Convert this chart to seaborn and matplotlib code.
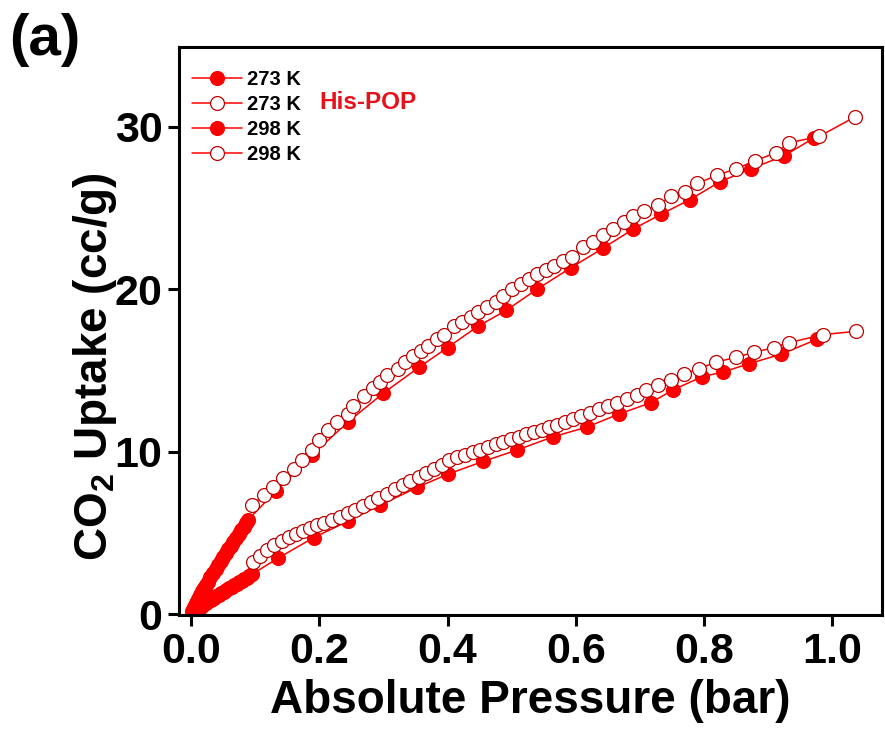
import matplotlib
matplotlib.use("Agg")
import matplotlib.pyplot as plt
import seaborn as sns

# 273 K adsorption (filled) / desorption (open)
p_273_ads = [0.002, 0.005, 0.008, 0.011, 0.014, 0.017, 0.020, 0.023, 0.026, 0.030,
             0.034, 0.038, 0.042, 0.046, 0.050, 0.054, 0.058, 0.062, 0.066, 0.070,
             0.074, 0.078, 0.082, 0.086, 0.089,
             0.133, 0.189, 0.244, 0.300, 0.356, 0.400, 0.447, 0.492, 0.540, 0.592,
             0.642, 0.690, 0.733, 0.778, 0.825, 0.873, 0.925, 0.972]
q_273_ads = [0.2, 0.45, 0.7, 0.95, 1.15, 1.4, 1.6, 1.8, 2.0, 2.25,
             2.5, 2.75, 3.0, 3.25, 3.5, 3.75, 4.0, 4.2, 4.45, 4.7,
             4.9, 5.15, 5.35, 5.6, 5.8,
             7.6, 9.8, 11.8, 13.6, 15.2, 16.4, 17.7, 18.7, 20.0, 21.3,
             22.5, 23.7, 24.6, 25.5, 26.6, 27.4, 28.2, 29.3]

p_273_des = [0.095, 0.113, 0.128, 0.144, 0.160, 0.173, 0.189, 0.200, 0.214, 0.228,
             0.244, 0.253, 0.269, 0.283, 0.295, 0.306, 0.322, 0.334, 0.346, 0.358,
             0.370, 0.384, 0.394, 0.410, 0.423, 0.436, 0.448, 0.462, 0.475, 0.487,
             0.500, 0.514, 0.527, 0.540, 0.553, 0.566, 0.580, 0.595, 0.611, 0.627,
             0.642, 0.658, 0.675, 0.690, 0.707, 0.728, 0.749, 0.770, 0.790, 0.820,
             0.850, 0.880, 0.913, 0.933, 0.980, 1.036]
q_273_des = [6.7, 7.3, 7.8, 8.4, 8.9, 9.5, 10.1, 10.7, 11.3, 11.8,
             12.3, 12.8, 13.4, 13.9, 14.3, 14.7, 15.1, 15.5, 15.9, 16.2,
             16.5, 16.9, 17.2, 17.7, 18.0, 18.3, 18.6, 18.9, 19.2, 19.6,
             20.0, 20.3, 20.6, 20.9, 21.15, 21.4, 21.7, 22.0, 22.6, 22.9,
             23.3, 23.7, 24.1, 24.5, 24.8, 25.2, 25.7, 26.0, 26.5, 27.0,
             27.4, 27.9, 28.4, 29.0, 29.4, 30.6]

# 298 K adsorption (filled) / desorption (open)
p_298_ads = [0.003, 0.007, 0.011, 0.015, 0.019, 0.023, 0.027, 0.031, 0.035, 0.039,
             0.043, 0.047, 0.051, 0.055, 0.059, 0.063, 0.067, 0.071, 0.075, 0.079,
             0.083, 0.087, 0.091, 0.095,
             0.136, 0.191, 0.244, 0.295, 0.353, 0.400, 0.456, 0.509, 0.564, 0.617,
             0.667, 0.717, 0.752, 0.797, 0.830, 0.870, 0.921, 0.976]
q_298_ads = [0.1, 0.22, 0.34, 0.45, 0.56, 0.67, 0.78, 0.88, 0.98, 1.08,
             1.18, 1.28, 1.38, 1.48, 1.58, 1.67, 1.77, 1.86, 1.96, 2.05,
             2.15, 2.24, 2.35, 2.45,
             3.45, 4.7, 5.7, 6.7, 7.8, 8.6, 9.4, 10.1, 10.9, 11.5,
             12.3, 13.0, 13.8, 14.6, 14.9, 15.4, 16.0, 16.9]

p_298_des = [0.097, 0.108, 0.119, 0.130, 0.141, 0.152, 0.163, 0.174, 0.186, 0.197,
             0.208, 0.220, 0.232, 0.244, 0.256, 0.268, 0.280, 0.292, 0.305, 0.318,
             0.330, 0.342, 0.355, 0.367, 0.379, 0.391, 0.403, 0.415, 0.427, 0.439,
             0.451, 0.463, 0.475, 0.487, 0.499, 0.511, 0.523, 0.535, 0.547, 0.559,
             0.571, 0.583, 0.596, 0.609, 0.622, 0.636, 0.650, 0.665, 0.680, 0.695,
             0.709, 0.728, 0.748, 0.769, 0.792, 0.819, 0.850, 0.878, 0.909, 0.933,
             0.986, 1.0375]
q_298_des = [3.2, 3.6, 3.95, 4.25, 4.5, 4.75, 4.95, 5.1, 5.3, 5.45,
             5.6, 5.8, 6.0, 6.2, 6.4, 6.65, 6.9, 7.15, 7.4, 7.7,
             7.95, 8.2, 8.45, 8.7, 8.95, 9.2, 9.45, 9.65, 9.8, 9.95,
             10.1, 10.3, 10.45, 10.6, 10.75, 10.9, 11.05, 11.2, 11.35, 11.5,
             11.65, 11.8, 12.0, 12.2, 12.4, 12.6, 12.8, 13.0, 13.25, 13.5,
             13.8, 14.1, 14.4, 14.75, 15.1, 15.5, 15.8, 16.1, 16.4, 16.7,
             17.2, 17.4]

labels = ["273 K", "273 K", "298 K", "298 K"]
x_ticks = [0.0, 0.2, 0.4, 0.6, 0.8, 1.0]
y_ticks = [0, 10, 20, 30]

RED = "#ff0000"
DARK = "#c00000"

sns.set_style("ticks")
plt.rcParams["font.family"] = ["Liberation Sans", "DejaVu Sans"]
plt.rcParams["font.weight"] = "bold"
plt.rcParams["text.color"] = "black"
plt.rcParams["axes.labelcolor"] = "black"
plt.rcParams["mathtext.fontset"] = "custom"
plt.rcParams["mathtext.rm"] = "Liberation Sans:bold"
plt.rcParams["mathtext.default"] = "rm"

fig = plt.figure(figsize=(8.85, 7.33), dpi=100)
ax = fig.add_axes([179 / 885, 1 - 615 / 733, 703 / 885, 568 / 733])

series = [
    (p_273_ads, q_273_ads, True),
    (p_273_des, q_273_des, False),
    (p_298_ads, q_298_ads, True),
    (p_298_des, q_298_des, False),
]
for (px, qy, filled), lab in zip(series, labels):
    sns.lineplot(x=px, y=qy, ax=ax, sort=False, estimator=None,
                 color=RED, lw=1.1, marker="o", markersize=10,
                 markerfacecolor=RED if filled else "white",
                 markeredgecolor=RED if filled else DARK,
                 markeredgewidth=0.9, label=lab)

ax.set_xlim(-0.019, 1.078)
ax.set_ylim(-0.06, 34.9)
ax.set_xticks(x_ticks)
ax.set_xticklabels([f"{t:.1f}" for t in x_ticks])
ax.set_yticks(y_ticks)

for s in ax.spines.values():
    s.set_linewidth(2.2)
    s.set_color("black")
ax.tick_params(axis="both", direction="out", length=8, width=2.2,
               labelsize=31, pad=4, colors="black")
for t in ax.get_xticklabels() + ax.get_yticklabels():
    t.set_fontweight("bold")

ax.set_xlabel("Absolute Pressure (bar)", fontsize=33, fontweight="bold",
              labelpad=5, color="black")
ax.set_ylabel("CO$_2$ Uptake (cc/g)", fontsize=33, fontweight="bold", color="black")
ax.yaxis.set_label_coords(-0.085, 0.437)

leg = ax.legend(loc="upper left", bbox_to_anchor=(0.018, 0.9595), frameon=False,
                borderpad=0, borderaxespad=0, handlelength=2.5, handletextpad=0.25,
                labelspacing=0.3, prop={"size": 14.5, "weight": "bold"})
for t in leg.get_texts():
    t.set_color("black")

ax.text(0.269, 0.903, "His-POP", transform=ax.transAxes, ha="center", va="center",
        fontsize=17.5, fontweight="bold", color="#e8101a")
fig.text(0.05, 0.945, "(a)", ha="center", va="center", fontsize=42, fontweight="bold")

fig.savefig("out.png", dpi=100)
